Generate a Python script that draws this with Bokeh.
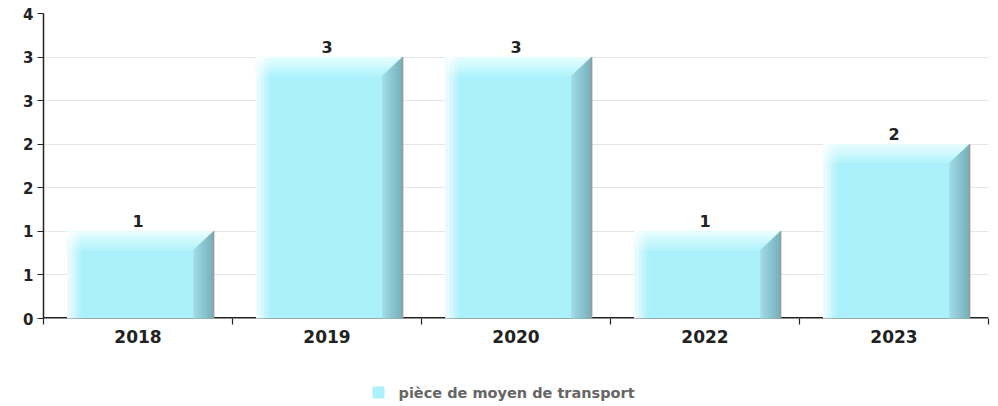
import numpy as np
from bokeh.plotting import figure
from bokeh.layouts import column
from bokeh.models import FixedTicker, Range1d
from bokeh.core.properties import value
from bokeh.embed import file_html
from bokeh.resources import INLINE

# ---- data ----
years = ["2018", "2019", "2020", "2022", "2023"]
counts = [1, 3, 3, 1, 2]
y_ticks = [0, 0.5, 1, 1.5, 2, 2.5, 3, 3.5]
y_tick_labels = ["0", "1", "1", "2", "2", "3", "3", "4"]
series_name = "pièce de moyen de transport"

FONT = value("DejaVu Sans")
FACE = "#abf1fb"
n = len(years)

p = figure(width=990, height=358,
           x_range=Range1d(0, n), y_range=Range1d(0, 3.5),
           output_backend="svg", toolbar_location=None,
           min_border_left=43, min_border_right=2, min_border_top=13, min_border_bottom=40)
p.outline_line_color = None
p.background_fill_color = "white"
p.border_fill_color = "white"

# grid
p.xgrid.visible = False
p.ygrid.ticker = FixedTicker(ticks=y_ticks)
p.ygrid.grid_line_color = "#e6e6e6"
p.ygrid.grid_line_width = 1

# y axis
p.yaxis.ticker = FixedTicker(ticks=y_ticks)
p.yaxis.major_label_overrides = {float(t): l for t, l in zip(y_ticks, y_tick_labels)}
p.yaxis.major_tick_out = 6
p.yaxis.major_tick_in = 0
p.yaxis.minor_tick_out = 0
p.yaxis.minor_tick_in = 0
p.yaxis.axis_line_color = "#222222"
p.yaxis.axis_line_width = 1.5
p.yaxis.major_tick_line_color = "#222222"
p.yaxis.major_label_text_font = "DejaVu Sans"
p.yaxis.major_label_text_font_style = "bold"
p.yaxis.major_label_text_font_size = "15px"
p.yaxis.major_label_text_color = "#222222"
p.yaxis.major_label_standoff = 4

# x axis
centers = [i + 0.5 for i in range(n)]
p.xaxis.ticker = FixedTicker(ticks=centers, minor_ticks=list(range(0, n + 1)))
p.xaxis.major_label_overrides = {float(c): y for c, y in zip(centers, years)}
p.xaxis.major_tick_out = 0
p.xaxis.major_tick_in = 0
p.xaxis.minor_tick_out = 6
p.xaxis.minor_tick_in = 0
p.xaxis.minor_tick_line_color = "#222222"
p.xaxis.minor_tick_line_width = 1.2
p.xaxis.axis_line_color = None
p.xaxis.major_label_text_font = "DejaVu Sans"
p.xaxis.major_label_text_font_style = "bold"
p.xaxis.major_label_text_font_size = "17px"
p.xaxis.major_label_text_color = "#222222"
p.xaxis.major_label_standoff = 5


def lerp_hex(c1, c2, t):
    a = [int(c1[i:i + 2], 16) for i in (1, 3, 5)]
    b = [int(c2[i:i + 2], 16) for i in (1, 3, 5)]
    return "#%02x%02x%02x" % tuple(int(round(a[k] + (b[k] - a[k]) * t)) for k in range(3))


# baseline drawn beneath the bars (half is clipped by the frame)
p.segment(x0=[0], y0=[0], x1=[n], y1=[0], line_color="#222222", line_width=3)

# bar geometry (relative to category slot)
L_OFF, R_OFF = 0.125, 0.90
BW = 0.106   # right bevel width (x units)
BH = 0.215   # top bevel height (y units)
GW = 0.085   # left glow width

lefts = [i + L_OFF for i in range(n)]
rights = [i + R_OFF for i in range(n)]

front = p.quad(left=lefts, right=rights, bottom=0, top=counts,
               fill_color=FACE, line_color=None)

NS = 12
top_xs, top_ys, top_cols = [], [], []
rb_xs, rb_ys, rb_cols = [], [], []
gl_l, gl_r, gl_t, gl_a = [], [], [], []
for l, r, v in zip(lefts, rights, counts):
    xr = lambda yy: r - BW * (v - yy) / BH
    for k in range(NS):
        y1 = v - BH + BH * k / NS
        y2 = v - BH + BH * (k + 1) / NS
        top_xs.append([l, xr(y1), xr(y2), l])
        top_ys.append([y1, y1, y2, y2])
        top_cols.append(lerp_hex("#b2f3fc", "#eafeff", (k + 0.5) / NS))
    yt = lambda xx: v - BH * (r - xx) / BW
    for k in range(NS):
        x1 = r - BW + BW * k / NS
        x2 = r - BW + BW * (k + 1) / NS
        rb_xs.append([x1, x2, x2, x1])
        rb_ys.append([0, 0, yt(x2), yt(x1)])
        rb_cols.append(lerp_hex("#a2dde7", "#74adb8", (k + 0.5) / NS))
    for k in range(NS):
        gl_l.append(l + GW * k / NS)
        gl_r.append(l + GW * (k + 1) / NS)
        gl_t.append(v)
        gl_a.append(0.97 * (1 - (k + 0.5) / NS) ** 1.2)

p.patches(xs=top_xs, ys=top_ys, fill_color=top_cols, line_color=top_cols, line_width=0.5)
p.patches(xs=rb_xs, ys=rb_ys, fill_color=rb_cols, line_color=rb_cols, line_width=0.5)
p.quad(left=gl_l, right=gl_r, bottom=0, top=gl_t, fill_color="white",
       fill_alpha=gl_a, line_color=None)
p.segment(x0=rights, y0=0, x1=rights, y1=counts, line_color="#9c9c9c", line_width=1.5)

# value labels
p.text(x=centers, y=counts, text=[str(c) for c in counts], text_align="center",
       text_baseline="bottom", y_offset=-4, text_font=FONT, text_font_style="bold",
       text_font_size="16px", text_color="#222222")

# ---- legend strip below the chart ----
# its frame is aligned with the chart frame (x 43..988 on the page), so the
# ranges are set to page pixels
LG_H = 48
lg = figure(width=990, height=LG_H, x_range=Range1d(43, 988), y_range=Range1d(0, LG_H),
            output_backend="svg", toolbar_location=None,
            x_axis_type=None, y_axis_type=None,
            min_border=0, min_border_left=0, min_border_right=0,
            min_border_top=0, min_border_bottom=0)
lg.outline_line_color = None
lg.xgrid.visible = False
lg.ygrid.visible = False
lg.background_fill_color = "white"
lg.border_fill_color = "white"

SW_X, SW_Y, SW_S = 372, 14, 12   # swatch left, vertical centre, size (px)
lg.quad(left=[SW_X], right=[SW_X + SW_S], bottom=[SW_Y - SW_S / 2], top=[SW_Y + SW_S / 2],
        fill_color=FACE, line_color=None)
lg.text(x=[SW_X + SW_S + 14], y=[SW_Y], text=[series_name], text_align="left",
        text_baseline="middle", text_font=FONT, text_font_style="bold",
        text_font_size="14.5px", text_color="#666666")

layout = column(p, lg, spacing=0)
open("out.html", "w").write(file_html(layout, INLINE))
